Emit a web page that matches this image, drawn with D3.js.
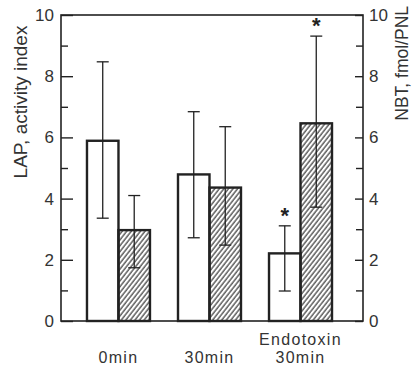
<!DOCTYPE html>
<html><head><meta charset="utf-8">
<script src="https://cdn.jsdelivr.net/npm/d3@7"></script>
<style>
html,body{margin:0;padding:0;background:#fff;}
svg{display:block;font-family:"Liberation Sans",Arial,sans-serif;}
</style></head>
<body><svg id="c" width="412" height="371"></svg>
<script>
// ---- data ----
const categories = ["0min", "30min", "Endotoxin|30min"];
const lapValues = [5.89, 4.79, 2.21];
const lapLow    = [3.36, 2.72, 0.98];
const lapHigh   = [8.47, 6.84, 3.11];
const lapSig    = [false, false, true];
const nbtValues = [2.97, 4.36, 6.46];
const nbtLow    = [1.74, 2.48, 3.72];
const nbtHigh   = [4.10, 6.35, 9.31];
const nbtSig    = [false, false, true];
const majorTicks = [0, 2, 4, 6, 8, 10];
const minorTicks = [1, 3, 5, 7, 9];
const leftTitle = "LAP, activity index";
const rightTitle = "NBT, fmol/PNL";

// ---- layout ----
const ink = "#222";
const txt = "#333";
const L = 61, R = 363, T = 15, B = 321;
const svg = d3.select("#c");

const defs = svg.append("defs");
defs.append("pattern").attr("id", "hatch").attr("patternUnits", "userSpaceOnUse")
  .attr("width", 3.6).attr("height", 10).attr("patternTransform", "rotate(38)")
  .append("line").attr("x1", 1).attr("x2", 1).attr("y1", 0).attr("y2", 10)
  .attr("stroke", ink).attr("stroke-width", 1.1);

const x = d3.scaleBand().domain(categories).range([L, R])
  .paddingInner(0.308).paddingOuter(0.313).align(0.456);
const sub = d3.scaleBand().domain(["lap", "nbt"]).range([0, x.bandwidth()]);
const yL = d3.scaleLinear().domain([0, 10]).range([B, T]);
const yR = d3.scaleLinear().domain([0, 10]).range([B, T]);

// frame
svg.append("rect").attr("x", L).attr("y", T).attr("width", R - L).attr("height", B - T)
  .attr("fill", "none").attr("stroke", ink).attr("stroke-width", 1.6);

// axes
function styleAxis(g) {
  g.select(".domain").remove();
  g.selectAll("line").attr("stroke", ink).attr("stroke-width", 1.4);
  g.selectAll("text").attr("fill", txt).attr("font-size", 17)
    .attr("font-family", "Liberation Sans, Arial, sans-serif");
}
svg.append("g").attr("transform", `translate(${L},0)`)
  .call(d3.axisLeft(yL).tickValues(majorTicks).tickSizeInner(-12).tickSizeOuter(0).tickPadding(7).tickFormat(d3.format("d")))
  .call(styleAxis);
svg.append("g").attr("transform", `translate(${L},0)`)
  .call(d3.axisLeft(yL).tickValues(minorTicks).tickSizeInner(-7).tickSizeOuter(0).tickFormat(""))
  .call(styleAxis);
svg.append("g").attr("transform", `translate(${R},0)`)
  .call(d3.axisRight(yR).tickValues(majorTicks).tickSizeInner(-8).tickSizeOuter(0).tickPadding(6).tickFormat(d3.format("d")))
  .call(styleAxis);
svg.append("g").attr("transform", `translate(${R},0)`)
  .call(d3.axisRight(yR).tickValues(minorTicks).tickSizeInner(-7).tickSizeOuter(0).tickFormat(""))
  .call(styleAxis);

// bars
const rows = categories.map((c, i) => [
  {c, k: "lap", v: lapValues[i], lo: lapLow[i], hi: lapHigh[i], sig: lapSig[i], y: yL},
  {c, k: "nbt", v: nbtValues[i], lo: nbtLow[i], hi: nbtHigh[i], sig: nbtSig[i], y: yR}
]).flat();

const g = svg.append("g");
g.selectAll("rect.bar").data(rows).join("rect").attr("class", "bar")
  .attr("x", d => x(d.c) + sub(d.k)).attr("width", sub.bandwidth())
  .attr("y", d => d.y(d.v)).attr("height", d => d.y(0) - d.y(d.v))
  .attr("fill", d => d.k === "lap" ? "#fff" : "url(#hatch)")
  .attr("stroke", ink).attr("stroke-width", 2.4);

// error bars
const cx = d => x(d.c) + sub(d.k) + sub.bandwidth() / 2;
const eb = g.selectAll("g.err").data(rows).join("g").attr("class", "err")
  .attr("stroke", ink).attr("stroke-width", 1.3);
eb.append("line").attr("x1", cx).attr("x2", cx).attr("y1", d => d.y(d.lo)).attr("y2", d => d.y(d.hi));
eb.append("line").attr("x1", d => cx(d) - 6).attr("x2", d => cx(d) + 6).attr("y1", d => d.y(d.hi)).attr("y2", d => d.y(d.hi));
eb.append("line").attr("x1", d => cx(d) - 6).attr("x2", d => cx(d) + 6).attr("y1", d => d.y(d.lo)).attr("y2", d => d.y(d.lo));

// significance asterisks
g.selectAll("text.sig").data(rows.filter(d => d.sig)).join("text").attr("class", "sig")
  .attr("x", cx).attr("y", d => d.y(d.hi) - 3)
  .attr("text-anchor", "middle").attr("font-size", 22).attr("font-weight", "bold")
  .attr("fill", ink).text("*");

// category labels
categories.forEach(c => {
  const parts = c.split("|");
  parts.forEach((p, j) => {
    svg.append("text").attr("text-anchor", "middle").attr("font-size", 16)
      .attr("letter-spacing", 1.3).attr("fill", txt)
      .attr("x", x(c) + x.bandwidth() / 2)
      .attr("y", 363 - (parts.length - 1 - j) * 18).text(p);
  });
});

// axis titles
svg.append("text").attr("transform", "translate(27,102) rotate(-90)")
  .attr("text-anchor", "middle").attr("font-size", 19).attr("fill", txt).text(leftTitle);
svg.append("text").attr("transform", "translate(408,6) rotate(-90)")
  .attr("text-anchor", "end").attr("font-size", 17.5).attr("fill", txt).text(rightTitle);
</script></body></html>
